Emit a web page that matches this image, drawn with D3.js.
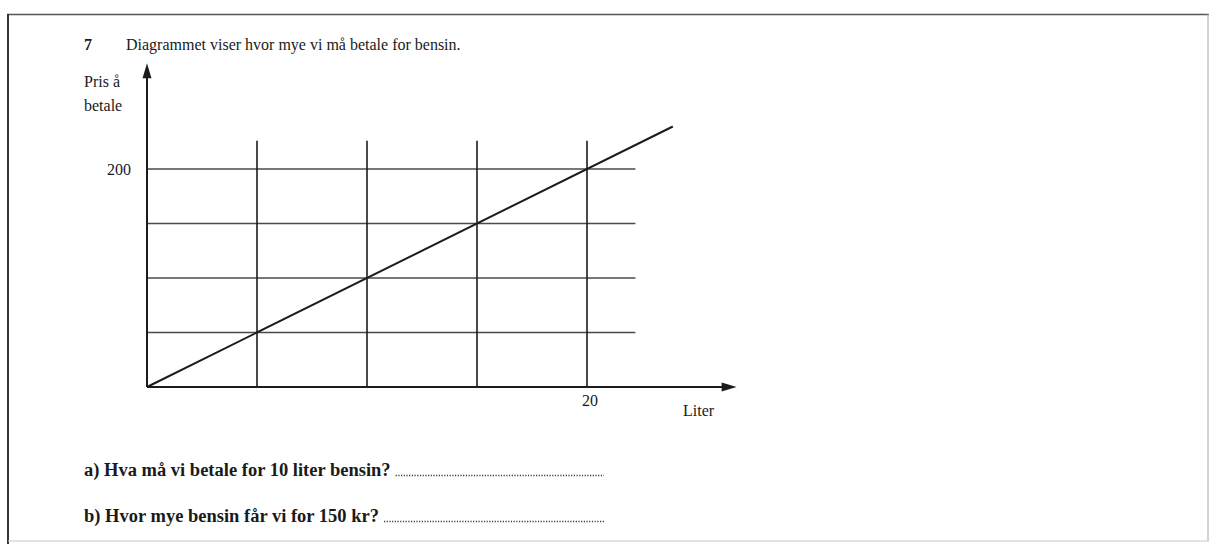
<!DOCTYPE html>
<html>
<head>
<meta charset="utf-8">
<script src="https://cdn.jsdelivr.net/npm/d3@7"></script>
<style>
  html, body { margin: 0; padding: 0; background: #ffffff; }
  svg { display: block; }
  text { font-family: "Liberation Serif", "Times New Roman", serif; fill: #1a1a1a; }
</style>
</head>
<body>
<svg id="chart" width="1209" height="544"></svg>
<script>
// Price of petrol: straight line through the origin, 10 kr per liter
const litersGrid = [5, 10, 15, 20];          // vertical grid lines (liter)
const priceGrid = [50, 100, 150, 200];       // horizontal grid lines (kr)
const xTickLabels = [{ value: 20, label: "20" }];
const yTickLabels = [{ value: 200, label: "200" }];
const priceLine = [[0, 0], [23.9, 239]];     // [liter, kr]

const titleNumber = "7";
const titleText = "Diagrammet viser hvor mye vi må betale for bensin.";
const yAxisTitle = ["Pris å", "betale"];
const xAxisTitle = "Liter";
const questions = [
  { label: "a)", text: "Hva må vi betale for 10 liter bensin?" },
  { label: "b)", text: "Hvor mye bensin får vi for 150 kr?" }
];

const svg = d3.select("#chart");
const ink = "#1c1c1c";
const gridInk = "#4a4a4a";

// scales: liter -> px, kr -> px
const x = d3.scaleLinear().domain([0, 20]).range([147, 587]);
const y = d3.scaleLinear().domain([0, 200]).range([387, 169]);

// extents of the drawn frame in data units
const xAxisEnd = 26.8;     // arrow tip on the liter axis
const yAxisEnd = 297;      // arrow tip on the price axis
const hGridEnd = 22.2;     // right end of horizontal grid lines
const vGridTop = 226;      // top end of vertical grid lines

// page frame
svg.append("line").attr("x1", 7).attr("y1", 14.5).attr("x2", 1209).attr("y2", 14.5)
  .attr("stroke", "#555").attr("stroke-width", 1.6);
svg.append("line").attr("x1", 8).attr("y1", 14).attr("x2", 8).attr("y2", 544)
  .attr("stroke", "#333").attr("stroke-width", 2);
svg.append("line").attr("x1", 1208).attr("y1", 14).attr("x2", 1208).attr("y2", 541)
  .attr("stroke", "#aaa").attr("stroke-width", 1);
svg.append("line").attr("x1", 8).attr("y1", 541).attr("x2", 1209).attr("y2", 541)
  .attr("stroke", "#c8c8c8").attr("stroke-width", 1.2);

// title
svg.append("text").attr("x", 84).attr("y", 50)
  .style("font-size", "16px").style("font-weight", "bold").text(titleNumber);
svg.append("text").attr("x", 126).attr("y", 50)
  .style("font-size", "16px").text(titleText);

// grid lines
svg.append("g").selectAll("line").data(priceGrid).join("line")
  .attr("x1", x(0)).attr("x2", x(hGridEnd))
  .attr("y1", d => y(d)).attr("y2", d => y(d))
  .attr("stroke", gridInk).attr("stroke-width", 1.5);
svg.append("g").selectAll("line").data(litersGrid).join("line")
  .attr("x1", d => x(d)).attr("x2", d => x(d))
  .attr("y1", y(0)).attr("y2", y(vGridTop))
  .attr("stroke", ink).attr("stroke-width", 1.6);

// axes with arrow heads
svg.append("line").attr("x1", x(0)).attr("y1", y(0)).attr("x2", x(xAxisEnd) - 12).attr("y2", y(0))
  .attr("stroke", ink).attr("stroke-width", 2);
svg.append("path")
  .attr("d", `M${x(xAxisEnd)},${y(0)} L${x(xAxisEnd) - 15},${y(0) - 4.5} L${x(xAxisEnd) - 15},${y(0) + 4.5} Z`)
  .attr("fill", ink);
svg.append("line").attr("x1", x(0)).attr("y1", y(0)).attr("x2", x(0)).attr("y2", y(yAxisEnd) + 12)
  .attr("stroke", ink).attr("stroke-width", 2);
svg.append("path")
  .attr("d", `M${x(0)},${y(yAxisEnd)} L${x(0) - 4.5},${y(yAxisEnd) + 15} L${x(0) + 4.5},${y(yAxisEnd) + 15} Z`)
  .attr("fill", ink);

// price line
svg.append("path").datum(priceLine)
  .attr("d", d3.line().x(d => x(d[0])).y(d => y(d[1])))
  .attr("fill", "none").attr("stroke", ink).attr("stroke-width", 2);

// tick labels
svg.append("g").selectAll("text").data(yTickLabels).join("text")
  .attr("x", 131).attr("y", d => y(d.value) + 6)
  .attr("text-anchor", "end").style("font-size", "16px").text(d => d.label);
svg.append("g").selectAll("text").data(xTickLabels).join("text")
  .attr("x", d => x(d.value) + 3).attr("y", 406)
  .attr("text-anchor", "middle").style("font-size", "16px").text(d => d.label);

// axis titles
svg.append("g").selectAll("text").data(yAxisTitle).join("text")
  .attr("x", 84).attr("y", (d, i) => 87 + i * 24)
  .style("font-size", "16px").text(d => d);
svg.append("text").attr("x", 683).attr("y", 416)
  .style("font-size", "16px").text(xAxisTitle);

// questions, each followed by a dotted answer line
const dotsEnd = 604;
svg.append("g").selectAll("g").data(questions).join("g")
  .each(function (d, i) {
    const g = d3.select(this);
    const baseY = 476 + i * 46;
    const t = g.append("text").attr("x", 84).attr("y", baseY)
      .style("font-size", "18.5px").style("font-weight", "bold")
      .text(d.label + " " + d.text);
    const end = 84 + t.node().getComputedTextLength() + 5;
    g.append("line").attr("x1", end).attr("x2", dotsEnd)
      .attr("y1", baseY - 0.5).attr("y2", baseY - 0.5)
      .attr("stroke", "#3a3a3a").attr("stroke-width", 1.3)
      .attr("stroke-dasharray", "1.2,1.5");
  });
</script>
</body>
</html>
